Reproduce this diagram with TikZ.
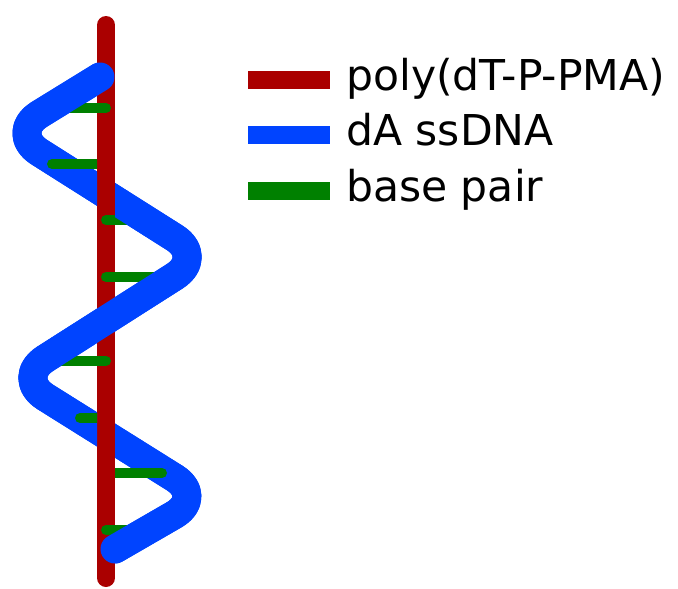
\documentclass[tikz,border=0pt]{standalone}
\usepackage{fontspec}
\setmainfont{DejaVu Sans}
\usetikzlibrary{calc}
\definecolor{polyred}{HTML}{AA0000}
\definecolor{dnablue}{HTML}{0044FF}
\definecolor{pairgreen}{HTML}{008000}

\begin{document}
\begin{tikzpicture}[x=1pt, y=-1pt,
    strand/.style={draw=dnablue, line width=29pt, line cap=round, line join=round, rounded corners=36pt},
    backbone/.style={draw=polyred, line width=18pt, line cap=round},
    basepair/.style={draw=pairgreen, line width=10pt, line cap=round},
    legtext/.style={anchor=base west, inner sep=0pt, font=\fontsize{42.5}{50}\selectfont}]
    \useasboundingbox (0,0) rectangle (678,589);

    % turning points of the ssDNA strand
    \coordinate(S)at(100,77);
    \coordinate(L1)at(9,133);
    \coordinate(R1)at(205,257);
    \coordinate(L2)at(15,378);
    \coordinate(R2)at(205,497);
    \coordinate(E)at(115,549);
    % ends of the polymer
    \coordinate(PT)at(106,25);
    \coordinate(PB)at(106,578);

    % strand (everything behind the polymer)
    \path[strand](S)--(L1)--(R1)--(L2)--(R2)--(E);

    % polymer
    \path[backbone](PT)to(PB);

    % base pairs in front of the polymer
    \foreach \y/\x in {108/55, 220/145, 277/165, 361/55, 530/145}
        \path[basepair](106,\y)to(\x,\y);

    % strand again, except where it passes behind the polymer
    \begin{scope}
        \clip (0,0) rectangle (97,589) (115,0) rectangle (678,589)
              (97,0) rectangle (115,100) (97,290) rectangle (115,360)
              (97,500) rectangle (115,589);
        \path[strand](S)--(L1)--(R1)--(L2)--(R2)--(E);
    \end{scope}

    % base pairs behind the polymer
    \begin{scope}
        \clip (0,0) rectangle (97,589) (115,0) rectangle (678,589);
        \foreach \y/\x in {164/52, 418/80, 473/162}
            \path[basepair](106,\y)to(\x,\y);
    \end{scope}

    % legend
    \path[draw=polyred, line width=18pt](248,80)to(330,80);
    \path[draw=dnablue, line width=18pt](248,135)to(330,135);
    \path[draw=pairgreen, line width=18pt](248,191)to(330,191);
    \node[legtext](lpoly)at(346,90){poly(dT-P-PMA)};
    \node[legtext](ldna)at(346,145.5){dA ssDNA};
    \node[legtext](lpair)at(346,201){base pair};
\end{tikzpicture}
\end{document}
